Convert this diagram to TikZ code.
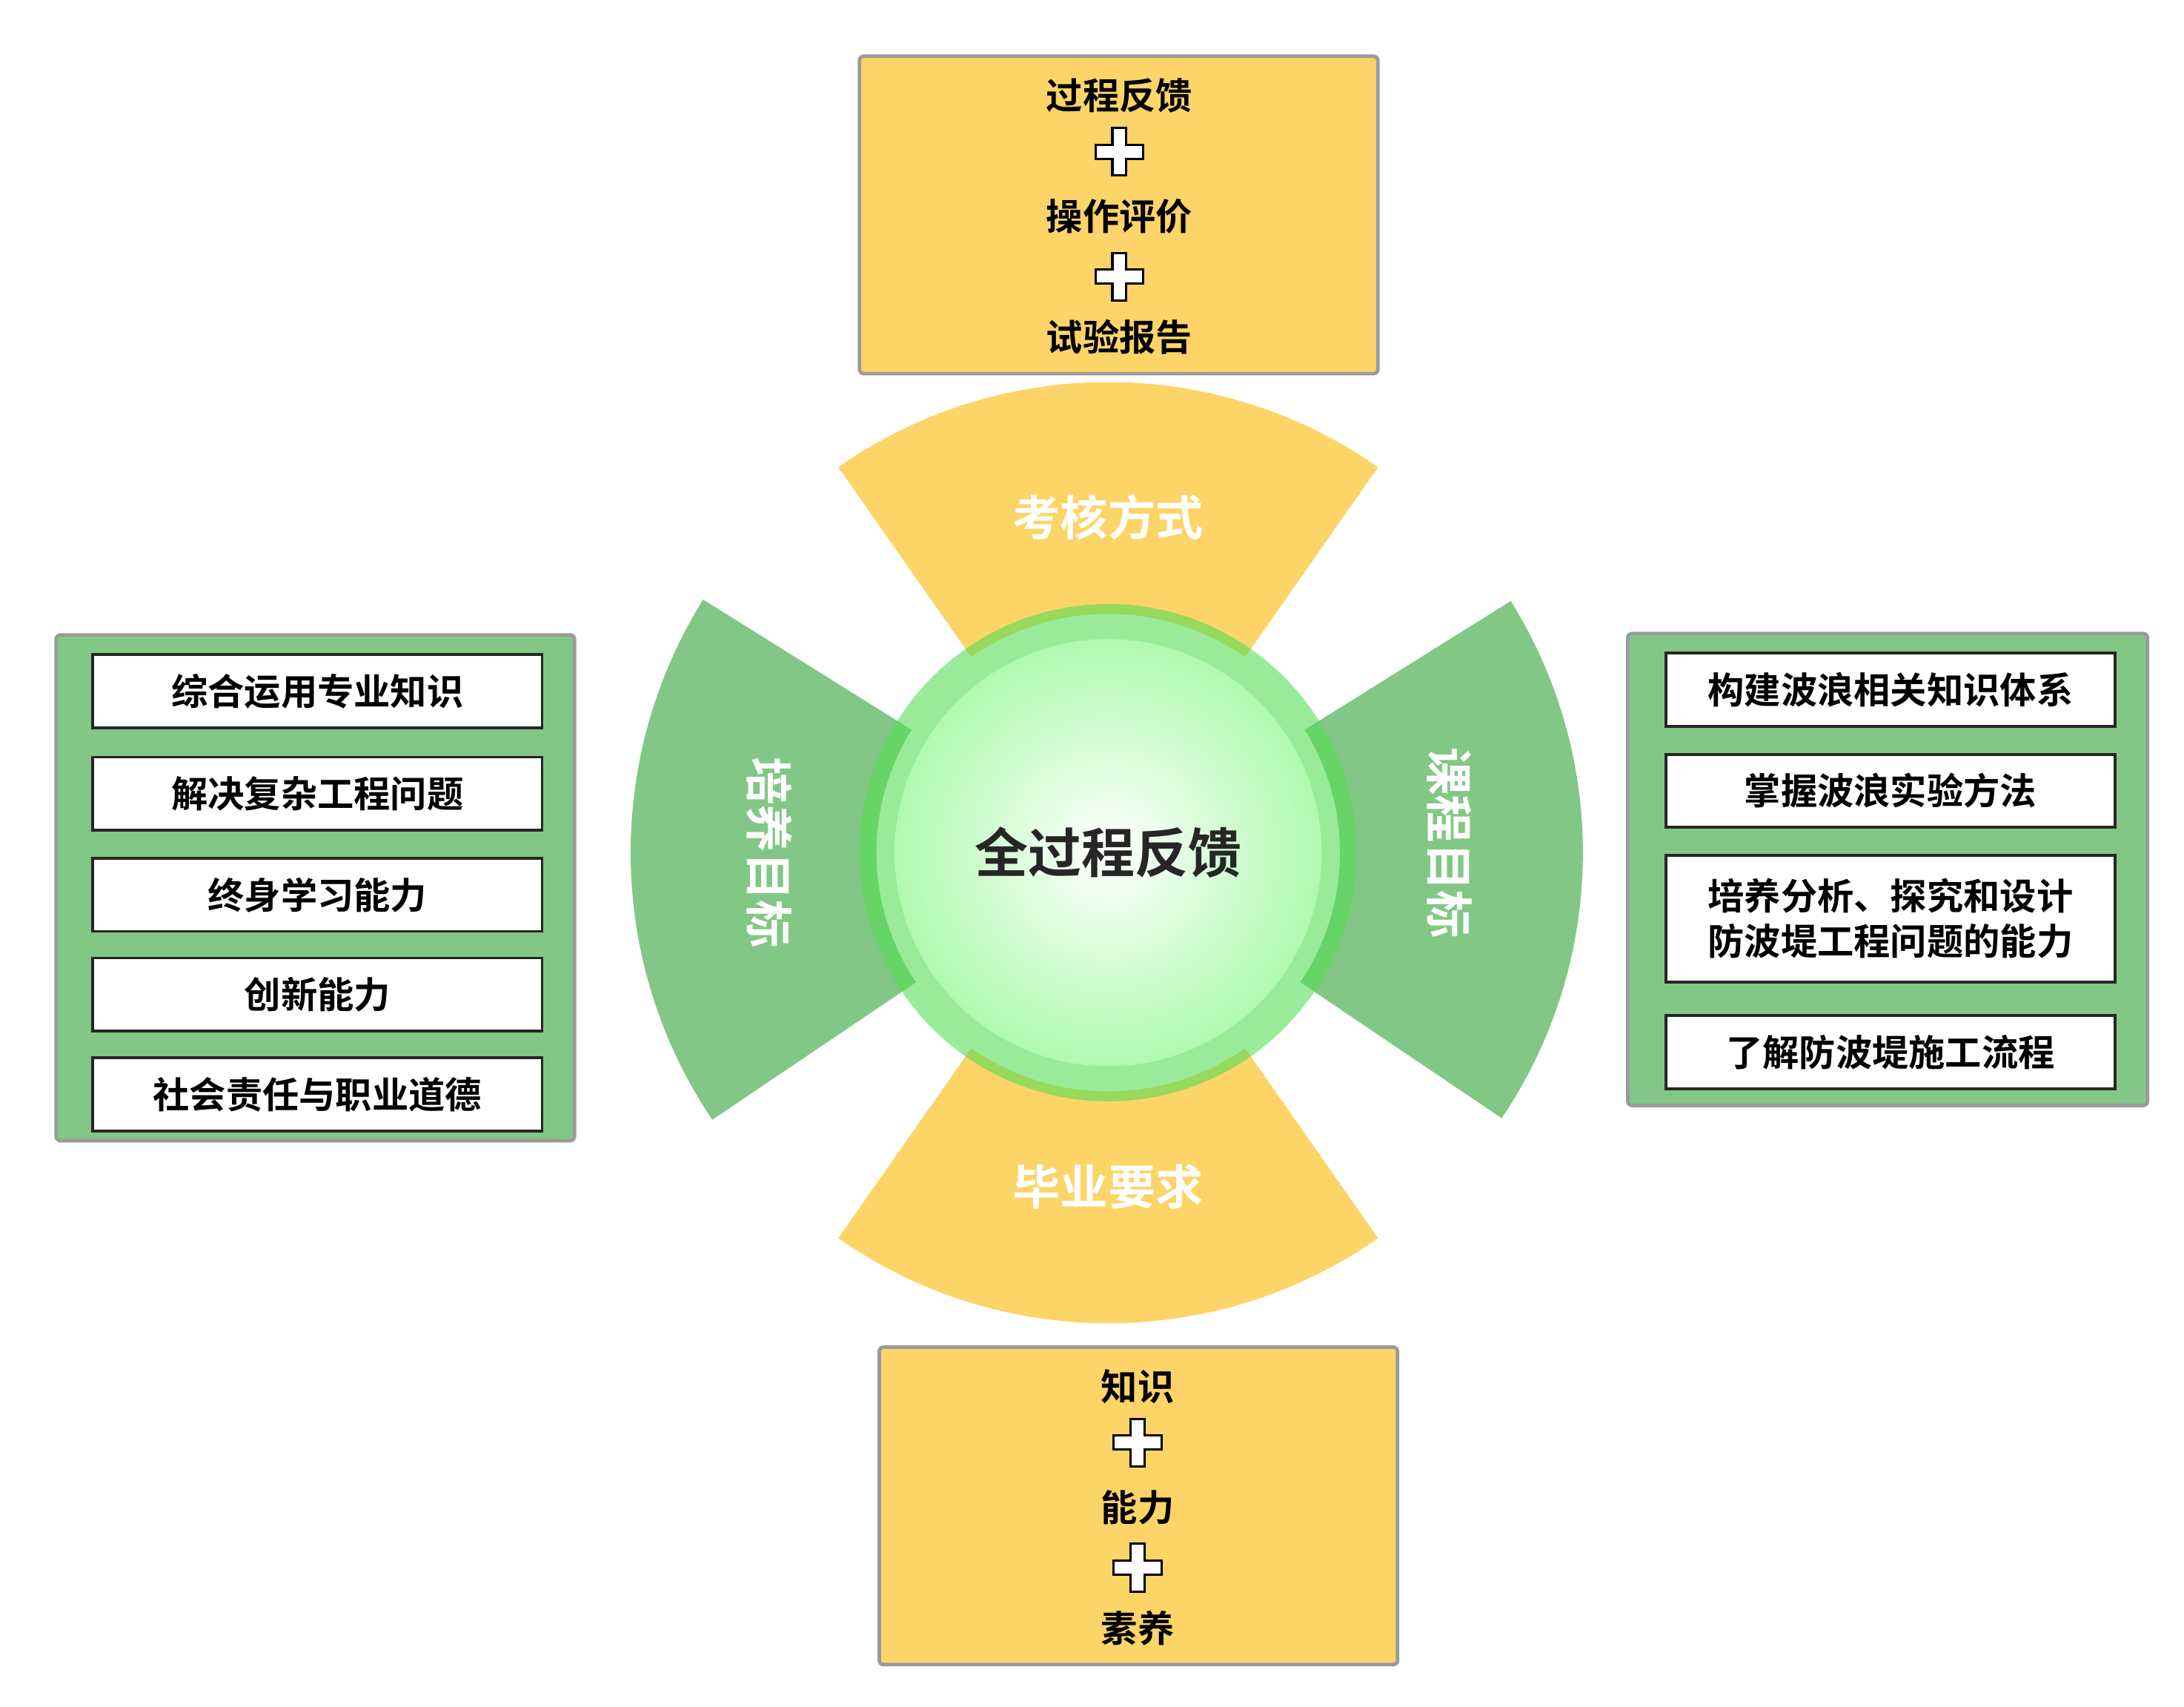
\documentclass[tikz,border=0pt]{standalone}
\usepackage{fontspec}
\newfontfamily\cjk{Noto Sans CJK SC}[BoldFont={* Bold}]
\usetikzlibrary{shadings,calc}
\definecolor{yel}{HTML}{FCD468}
\definecolor{grn}{HTML}{82C785}
\definecolor{ring}{HTML}{55DD55}
\definecolor{edge}{HTML}{9A9A9A}
\begin{document}
\begin{tikzpicture}[x=1pt,y=-1pt,
  outer/.style={draw=edge,line width=2.5pt,rounded corners=3pt},
  item/.style={draw=black!85,fill=white,line width=2pt,minimum width=320pt,minimum height=52pt,font=\cjk\bfseries\fontsize{26}{32}\selectfont,align=center,inner sep=0pt},
  btxt/.style={font=\cjk\bfseries\fontsize{26}{30}\selectfont},
  wtxt/.style={font=\cjk\bfseries\fontsize{34}{40}\selectfont,text=white},
  plus/.pic={\draw[fill=white,line width=1.6pt] (-5,-17)--(5,-17)--(5,-5)--(17,-5)--(17,5)--(5,5)--(5,17)--(-5,17)--(-5,5)--(-17,5)--(-17,-5)--(-5,-5)--cycle;}]
\useasboundingbox (0,0) rectangle (1555,1215);
\coordinate (c) at (789,607);
\fill[yel] ($(c)+(-55:170)$) arc[start angle=-55,end angle=-125,radius=170] -- ($(c)+(-125:335)$) arc[start angle=-125,end angle=-55,radius=335] -- cycle;
\fill[yel] ($(c)+(55:170)$) arc[start angle=55,end angle=125,radius=170] -- ($(c)+(125:335)$) arc[start angle=125,end angle=55,radius=335] -- cycle;
\fill[grn] ($(c)+(-148:165)$) arc[start angle=-148,end angle=-214,radius=165] -- ($(c)+(-214:340)$) arc[start angle=-214,end angle=-148,radius=340] -- cycle;
\fill[grn] ($(c)+(-32:165)$) arc[start angle=-32,end angle=34,radius=165] -- ($(c)+(34:338)$) arc[start angle=34,end angle=-32,radius=338] -- cycle;
\fill[ring,opacity=0.6] (c) circle[radius=177];
\shade[inner color=white,outer color=green!25!white!85!ring] (c) circle[radius=152];
\node[font=\cjk\bfseries\fontsize{38}{44}\selectfont,text=black!85] (center) at (c) {全过程反馈};
\node[wtxt] (s1) at (789,368) {考核方式};
\node[wtxt] (s2) at (789,845) {毕业要求};
\node[wtxt,rotate=-90] (s3) at (548,607) {培养目标};
\node[wtxt,rotate=-90] (s4) at (1032,600) {课程目标};
\draw[outer,fill=yel] (612,40) rectangle (981,266);
\node[btxt] (t1) at (797,68) {过程反馈};
\pic at (797,108) {plus};
\node[btxt] (t2) at (797,154) {操作评价};
\pic at (797,197) {plus};
\node[btxt] (t3) at (797,240) {试验报告};
\draw[outer,fill=yel] (626,959) rectangle (995,1185);
\node[btxt] (b1) at (810,987) {知识};
\pic at (810,1027) {plus};
\node[btxt] (b2) at (810,1073) {能力};
\pic at (810,1116) {plus};
\node[btxt] (b3) at (810,1159) {素养};
\draw[outer,fill=grn] (40,452) rectangle (409,812);
\node[item] (l1) at (226,492) {综合运用专业知识};
\node[item] (l2) at (226,565) {解决复杂工程问题};
\node[item] (l3) at (226,637) {终身学习能力};
\node[item] (l4) at (226,708) {创新能力};
\node[item] (l5) at (226,779) {社会责任与职业道德};
\draw[outer,fill=grn] (1159,451) rectangle (1529,787);
\node[item] (r1) at (1346,491) {构建波浪相关知识体系};
\node[item] (r2) at (1346,563) {掌握波浪实验方法};
\node[item,minimum height=90pt] (r3) at (1346,654) {培养分析、探究和设计\\防波堤工程问题的能力};
\node[item] (r4) at (1346,749) {了解防波堤施工流程};
\end{tikzpicture}
\end{document}
